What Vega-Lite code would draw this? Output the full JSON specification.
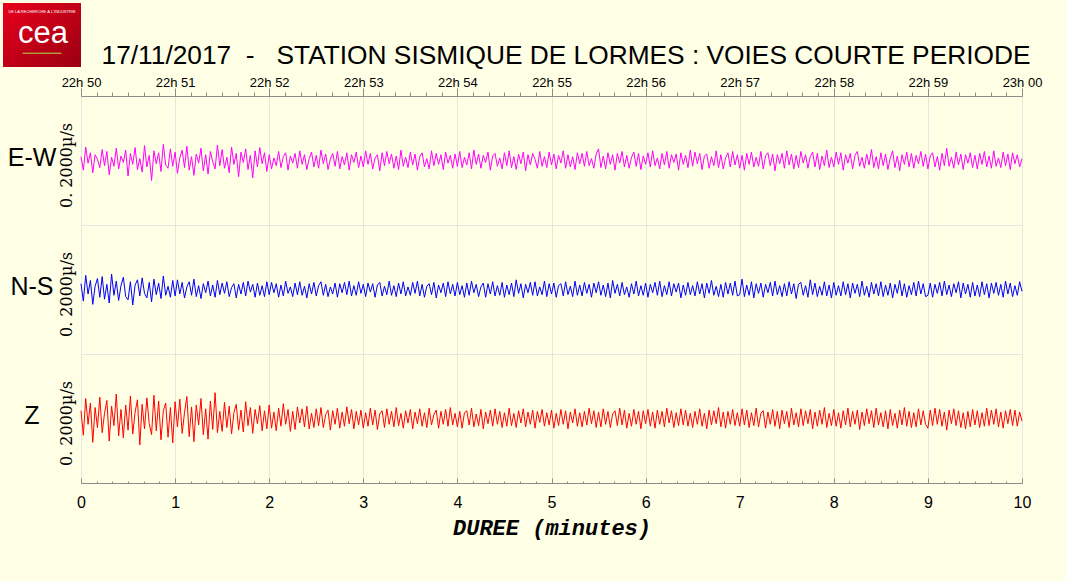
{
"$schema":"https://vega.github.io/schema/vega-lite/v6.json",
"background":"#FFFFE5",
"padding":{"left":3,"top":3,"right":24,"bottom":45},
"config":{"view":{"stroke":null},"font":"Liberation Sans"},
"datasets":{
"ew":[{"t":0,"v":6},{"t":1.5,"v":-15},{"t":3,"v":21},{"t":4.5,"v":-4},{"t":6,"v":12},{"t":7.5,"v":-19},{"t":9,"v":9},{"t":10.5,"v":2},{"t":12,"v":-11},{"t":13.5,"v":17},{"t":15,"v":-8},{"t":16.5,"v":14},{"t":18,"v":-22},{"t":19.5,"v":5},{"t":21,"v":-9},{"t":22.5,"v":19},{"t":24,"v":-13},{"t":25.5,"v":7},{"t":27,"v":-3},{"t":28.5,"v":16},
{"t":30,"v":-24},{"t":31.5,"v":11},{"t":33,"v":-6},{"t":34.5,"v":20},{"t":36,"v":-14},{"t":37.5,"v":3},{"t":39,"v":-18},{"t":40.5,"v":23},{"t":42,"v":-10},{"t":43.5,"v":8},{"t":45,"v":-31},{"t":46.5,"v":15},{"t":48,"v":-5},{"t":49.5,"v":12},{"t":51,"v":-17},{"t":52.5,"v":25},{"t":54,"v":-7},{"t":55.5,"v":-12},{"t":57,"v":18},{"t":58.5,"v":-9},
{"t":60,"v":13},{"t":61.5,"v":-20},{"t":63,"v":4},{"t":64.5,"v":16},{"t":66,"v":-11},{"t":67.5,"v":22},{"t":69,"v":-15},{"t":70.5,"v":6},{"t":72,"v":-23},{"t":73.5,"v":10},{"t":75,"v":-4},{"t":76.5,"v":19},{"t":78,"v":-16},{"t":79.5,"v":9},{"t":81,"v":-21},{"t":82.5,"v":14},{"t":84,"v":-2},{"t":85.5,"v":-13},{"t":87,"v":24},{"t":88.5,"v":-8},
{"t":90,"v":17},{"t":91.5,"v":-12},{"t":93,"v":5},{"t":94.5,"v":-19},{"t":96,"v":21},{"t":97.5,"v":-6},{"t":99,"v":11},{"t":100.5,"v":-25},{"t":102,"v":13},{"t":103.5,"v":-3},{"t":105,"v":18},{"t":106.5,"v":-14},{"t":108,"v":8},{"t":109.5,"v":-27},{"t":111,"v":15},{"t":112.5,"v":-10},{"t":114,"v":20},{"t":115.5,"v":-5},{"t":117,"v":12},{"t":118.5,"v":-17},
{"t":120,"v":9},{"t":121.5,"v":-13},{"t":123,"v":4},{"t":124.5,"v":-8},{"t":126,"v":14},{"t":127.5,"v":-11},{"t":129,"v":6},{"t":130.5,"v":12},{"t":132,"v":-15},{"t":133.5,"v":7},{"t":135,"v":-4},{"t":136.5,"v":11},{"t":138,"v":-12},{"t":139.5,"v":15},{"t":141,"v":-6},{"t":142.5,"v":9},{"t":144,"v":-14},{"t":145.5,"v":3},{"t":147,"v":13},{"t":148.5,"v":-10},
{"t":150,"v":8},{"t":151.5,"v":-12},{"t":153,"v":16},{"t":154.5,"v":-5},{"t":156,"v":10},{"t":157.5,"v":-14},{"t":159,"v":2},{"t":160.5,"v":11},{"t":162,"v":-9},{"t":163.5,"v":14},{"t":165,"v":-13},{"t":166.5,"v":6},{"t":168,"v":-7},{"t":169.5,"v":12},{"t":171,"v":-15},{"t":172.5,"v":9},{"t":174,"v":-3},{"t":175.5,"v":13},{"t":177,"v":-11},{"t":178.5,"v":7},
{"t":180,"v":-10},{"t":181.5,"v":15},{"t":183,"v":-6},{"t":184.5,"v":11},{"t":186,"v":-13},{"t":187.5,"v":4},{"t":189,"v":9},{"t":190.5,"v":-16},{"t":192,"v":12},{"t":193.5,"v":-8},{"t":195,"v":14},{"t":196.5,"v":-5},{"t":198,"v":10},{"t":199.5,"v":-12},{"t":201,"v":7},{"t":202.5,"v":-14},{"t":204,"v":16},{"t":205.5,"v":-9},{"t":207,"v":5},{"t":208.5,"v":-11},
{"t":210,"v":13},{"t":211.5,"v":-7},{"t":213,"v":10},{"t":214.5,"v":-15},{"t":216,"v":6},{"t":217.5,"v":12},{"t":219,"v":-10},{"t":220.5,"v":3},{"t":222,"v":-13},{"t":223.5,"v":15},{"t":225,"v":-8},{"t":226.5,"v":11},{"t":228,"v":-6},{"t":229.5,"v":9},{"t":231,"v":-14},{"t":232.5,"v":13},{"t":234,"v":-4},{"t":235.5,"v":8},{"t":237,"v":-12},{"t":238.5,"v":10},
{"t":240,"v":-9},{"t":241.5,"v":14},{"t":243,"v":-11},{"t":244.5,"v":5},{"t":246,"v":-7},{"t":247.5,"v":12},{"t":249,"v":-13},{"t":250.5,"v":16},{"t":252,"v":-6},{"t":253.5,"v":10},{"t":255,"v":-12},{"t":256.5,"v":8},{"t":258,"v":-3},{"t":259.5,"v":13},{"t":261,"v":-15},{"t":262.5,"v":7},{"t":264,"v":11},{"t":265.5,"v":-9},{"t":267,"v":4},{"t":268.5,"v":-13},
{"t":270,"v":12},{"t":271.5,"v":-8},{"t":273,"v":15},{"t":274.5,"v":-11},{"t":276,"v":6},{"t":277.5,"v":-14},{"t":279,"v":10},{"t":280.5,"v":-5},{"t":282,"v":13},{"t":283.5,"v":-16},{"t":285,"v":9},{"t":286.5,"v":-7},{"t":288,"v":11},{"t":289.5,"v":2},{"t":291,"v":-12},{"t":292.5,"v":14},{"t":294,"v":-9},{"t":295.5,"v":6},{"t":297,"v":-11},{"t":298.5,"v":13},
{"t":300,"v":-7},{"t":301.5,"v":10},{"t":303,"v":-13},{"t":304.5,"v":8},{"t":306,"v":-4},{"t":307.5,"v":15},{"t":309,"v":-12},{"t":310.5,"v":9},{"t":312,"v":-10},{"t":313.5,"v":6},{"t":315,"v":-14},{"t":316.5,"v":12},{"t":318,"v":-5},{"t":319.5,"v":11},{"t":321,"v":-9},{"t":322.5,"v":14},{"t":324,"v":-8},{"t":325.5,"v":3},{"t":327,"v":-12},{"t":328.5,"v":10},
{"t":330,"v":18},{"t":331.5,"v":-11},{"t":333,"v":7},{"t":334.5,"v":-13},{"t":336,"v":12},{"t":337.5,"v":-6},{"t":339,"v":9},{"t":340.5,"v":-15},{"t":342,"v":11},{"t":343.5,"v":-4},{"t":345,"v":14},{"t":346.5,"v":-10},{"t":348,"v":8},{"t":349.5,"v":-12},{"t":351,"v":5},{"t":352.5,"v":13},{"t":354,"v":-9},{"t":355.5,"v":11},{"t":357,"v":-14},{"t":358.5,"v":7},
{"t":360,"v":-6},{"t":361.5,"v":12},{"t":363,"v":-10},{"t":364.5,"v":15},{"t":366,"v":-8},{"t":367.5,"v":4},{"t":369,"v":-13},{"t":370.5,"v":11},{"t":372,"v":-7},{"t":373.5,"v":14},{"t":375,"v":-12},{"t":376.5,"v":9},{"t":378,"v":-3},{"t":379.5,"v":10},{"t":381,"v":-15},{"t":382.5,"v":12},{"t":384,"v":-6},{"t":385.5,"v":8},{"t":387,"v":-11},{"t":388.5,"v":16},
{"t":390,"v":-9},{"t":391.5,"v":13},{"t":393,"v":-5},{"t":394.5,"v":11},{"t":396,"v":-14},{"t":397.5,"v":7},{"t":399,"v":10},{"t":400.5,"v":-12},{"t":402,"v":6},{"t":403.5,"v":-8},{"t":405,"v":15},{"t":406.5,"v":-11},{"t":408,"v":9},{"t":409.5,"v":-13},{"t":411,"v":4},{"t":412.5,"v":12},{"t":414,"v":-10},{"t":415.5,"v":14},{"t":417,"v":-7},{"t":418.5,"v":9},
{"t":420,"v":-12},{"t":421.5,"v":8},{"t":423,"v":-15},{"t":424.5,"v":11},{"t":426,"v":-6},{"t":427.5,"v":13},{"t":429,"v":-10},{"t":430.5,"v":5},{"t":432,"v":-9},{"t":433.5,"v":14},{"t":435,"v":-13},{"t":436.5,"v":7},{"t":438,"v":12},{"t":439.5,"v":-8},{"t":441,"v":10},{"t":442.5,"v":-16},{"t":444,"v":9},{"t":445.5,"v":-5},{"t":447,"v":11},{"t":448.5,"v":-12},
{"t":450,"v":15},{"t":451.5,"v":-7},{"t":453,"v":10},{"t":454.5,"v":-13},{"t":456,"v":8},{"t":457.5,"v":-11},{"t":459,"v":14},{"t":460.5,"v":-4},{"t":462,"v":9},{"t":463.5,"v":-12},{"t":465,"v":6},{"t":466.5,"v":13},{"t":468,"v":-10},{"t":469.5,"v":11},{"t":471,"v":-14},{"t":472.5,"v":7},{"t":474,"v":-8},{"t":475.5,"v":16},{"t":477,"v":-11},{"t":478.5,"v":5},
{"t":480,"v":-10},{"t":481.5,"v":13},{"t":483,"v":-6},{"t":484.5,"v":12},{"t":486,"v":-15},{"t":487.5,"v":9},{"t":489,"v":-4},{"t":490.5,"v":11},{"t":492,"v":-13},{"t":493.5,"v":8},{"t":495,"v":14},{"t":496.5,"v":-9},{"t":498,"v":5},{"t":499.5,"v":-12},{"t":501,"v":10},{"t":502.5,"v":-7},{"t":504,"v":17},{"t":505.5,"v":-11},{"t":507,"v":6},{"t":508.5,"v":-13},
{"t":510,"v":12},{"t":511.5,"v":-8},{"t":513,"v":10},{"t":514.5,"v":-14},{"t":516,"v":4},{"t":517.5,"v":15},{"t":519,"v":-11},{"t":520.5,"v":7},{"t":522,"v":-16},{"t":523.5,"v":9},{"t":525,"v":-6},{"t":526.5,"v":13},{"t":528,"v":-10},{"t":529.5,"v":11},{"t":531,"v":-12},{"t":532.5,"v":8},{"t":534,"v":-5},{"t":535.5,"v":14},{"t":537,"v":-9},{"t":538.5,"v":10},
{"t":540,"v":-13},{"t":541.5,"v":7},{"t":543,"v":12},{"t":544.5,"v":-10},{"t":546,"v":6},{"t":547.5,"v":-15},{"t":549,"v":11},{"t":550.5,"v":-8},{"t":552,"v":19},{"t":553.5,"v":-9},{"t":555,"v":5},{"t":556.5,"v":-12},{"t":558,"v":13},{"t":559.5,"v":-7},{"t":561,"v":10},{"t":562.5,"v":-14},{"t":564,"v":9},{"t":565.5,"v":-4},{"t":567,"v":12},{"t":568.5,"v":-11},
{"t":570,"v":8},{"t":571.5,"v":-13},{"t":573,"v":11},{"t":574.5,"v":-6},{"t":576,"v":14},{"t":577.5,"v":-10},{"t":579,"v":7},{"t":580.5,"v":-12},{"t":582,"v":15},{"t":583.5,"v":-9},{"t":585,"v":4},{"t":586.5,"v":-11},{"t":588,"v":13},{"t":589.5,"v":-8},{"t":591,"v":10},{"t":592.5,"v":-14},{"t":594,"v":12},{"t":595.5,"v":-5},{"t":597,"v":9},{"t":598.5,"v":-10},
{"t":600,"v":3}],
"ns":[{"t":0,"v":9},{"t":1.5,"v":-18},{"t":3,"v":22},{"t":4.5,"v":-7},{"t":6,"v":14},{"t":7.5,"v":-23},{"t":9,"v":5},{"t":10.5,"v":17},{"t":12,"v":-12},{"t":13.5,"v":20},{"t":15,"v":-15},{"t":16.5,"v":8},{"t":18,"v":-21},{"t":19.5,"v":24},{"t":21,"v":-9},{"t":22.5,"v":13},{"t":24,"v":-17},{"t":25.5,"v":6},{"t":27,"v":19},{"t":28.5,"v":-11},
{"t":30,"v":-16},{"t":31.5,"v":12},{"t":33,"v":-24},{"t":34.5,"v":7},{"t":36,"v":15},{"t":37.5,"v":-10},{"t":39,"v":18},{"t":40.5,"v":-6},{"t":42,"v":-13},{"t":43.5,"v":11},{"t":45,"v":-19},{"t":46.5,"v":16},{"t":48,"v":-8},{"t":49.5,"v":10},{"t":51,"v":-14},{"t":52.5,"v":21},{"t":54,"v":-9},{"t":55.5,"v":5},{"t":57,"v":-12},{"t":58.5,"v":14},
{"t":60,"v":-10},{"t":61.5,"v":15},{"t":63,"v":-7},{"t":64.5,"v":11},{"t":66,"v":-13},{"t":67.5,"v":4},{"t":69,"v":12},{"t":70.5,"v":-9},{"t":72,"v":16},{"t":73.5,"v":-11},{"t":75,"v":6},{"t":76.5,"v":-14},{"t":78,"v":9},{"t":79.5,"v":-5},{"t":81,"v":13},{"t":82.5,"v":-10},{"t":84,"v":7},{"t":85.5,"v":-12},{"t":87,"v":14},{"t":88.5,"v":-8},
{"t":90,"v":10},{"t":91.5,"v":-6},{"t":93,"v":12},{"t":94.5,"v":-11},{"t":96,"v":3},{"t":97.5,"v":9},{"t":99,"v":-13},{"t":100.5,"v":8},{"t":102,"v":-7},{"t":103.5,"v":11},{"t":105,"v":-10},{"t":106.5,"v":13},{"t":108,"v":-4},{"t":109.5,"v":8},{"t":111,"v":-12},{"t":112.5,"v":10},{"t":114,"v":-9},{"t":115.5,"v":6},{"t":117,"v":-11},{"t":118.5,"v":12},
{"t":120,"v":-8},{"t":121.5,"v":11},{"t":123,"v":-5},{"t":124.5,"v":9},{"t":126,"v":-12},{"t":127.5,"v":7},{"t":129,"v":-10},{"t":130.5,"v":13},{"t":132,"v":-6},{"t":133.5,"v":4},{"t":135,"v":-11},{"t":136.5,"v":10},{"t":138,"v":-8},{"t":139.5,"v":12},{"t":141,"v":-9},{"t":142.5,"v":5},{"t":144,"v":-13},{"t":145.5,"v":9},{"t":147,"v":-7},{"t":148.5,"v":11},
{"t":150,"v":-10},{"t":151.5,"v":6},{"t":153,"v":12},{"t":154.5,"v":-9},{"t":156,"v":8},{"t":157.5,"v":-11},{"t":159,"v":4},{"t":160.5,"v":-7},{"t":162,"v":10},{"t":163.5,"v":-12},{"t":165,"v":9},{"t":166.5,"v":-5},{"t":168,"v":11},{"t":169.5,"v":-8},{"t":171,"v":13},{"t":172.5,"v":-10},{"t":174,"v":6},{"t":175.5,"v":-9},{"t":177,"v":12},{"t":178.5,"v":-6},
{"t":180,"v":8},{"t":181.5,"v":-11},{"t":183,"v":10},{"t":184.5,"v":-4},{"t":186,"v":9},{"t":187.5,"v":-12},{"t":189,"v":7},{"t":190.5,"v":11},{"t":192,"v":-10},{"t":193.5,"v":5},{"t":195,"v":-8},{"t":196.5,"v":13},{"t":198,"v":-9},{"t":199.5,"v":6},{"t":201,"v":-11},{"t":202.5,"v":10},{"t":204,"v":-7},{"t":205.5,"v":12},{"t":207,"v":-10},{"t":208.5,"v":4},
{"t":210,"v":-9},{"t":211.5,"v":11},{"t":213,"v":-6},{"t":214.5,"v":13},{"t":216,"v":-10},{"t":217.5,"v":8},{"t":219,"v":-12},{"t":220.5,"v":5},{"t":222,"v":9},{"t":223.5,"v":-8},{"t":225,"v":11},{"t":226.5,"v":-13},{"t":228,"v":7},{"t":229.5,"v":-5},{"t":231,"v":10},{"t":232.5,"v":-11},{"t":234,"v":12},{"t":235.5,"v":-7},{"t":237,"v":8},{"t":238.5,"v":-10},
{"t":240,"v":11},{"t":241.5,"v":-8},{"t":243,"v":6},{"t":244.5,"v":-12},{"t":246,"v":10},{"t":247.5,"v":-9},{"t":249,"v":13},{"t":250.5,"v":-5},{"t":252,"v":8},{"t":253.5,"v":-11},{"t":255,"v":4},{"t":256.5,"v":10},{"t":258,"v":-12},{"t":259.5,"v":9},{"t":261,"v":-7},{"t":262.5,"v":12},{"t":264,"v":-10},{"t":265.5,"v":6},{"t":267,"v":-9},{"t":268.5,"v":11},
{"t":270,"v":-12},{"t":271.5,"v":7},{"t":273,"v":-8},{"t":274.5,"v":10},{"t":276,"v":-11},{"t":277.5,"v":15},{"t":279,"v":-6},{"t":280.5,"v":9},{"t":282,"v":-13},{"t":283.5,"v":8},{"t":285,"v":-5},{"t":286.5,"v":11},{"t":288,"v":-9},{"t":289.5,"v":12},{"t":291,"v":-10},{"t":292.5,"v":4},{"t":294,"v":-8},{"t":295.5,"v":13},{"t":297,"v":-11},{"t":298.5,"v":9},
{"t":300,"v":-7},{"t":301.5,"v":10},{"t":303,"v":-12},{"t":304.5,"v":6},{"t":306,"v":9},{"t":307.5,"v":-10},{"t":309,"v":12},{"t":310.5,"v":-8},{"t":312,"v":5},{"t":313.5,"v":-11},{"t":315,"v":13},{"t":316.5,"v":-9},{"t":318,"v":7},{"t":319.5,"v":-10},{"t":321,"v":11},{"t":322.5,"v":-6},{"t":324,"v":8},{"t":325.5,"v":-12},{"t":327,"v":10},{"t":328.5,"v":-5},
{"t":330,"v":12},{"t":331.5,"v":-9},{"t":333,"v":7},{"t":334.5,"v":-11},{"t":336,"v":10},{"t":337.5,"v":-13},{"t":339,"v":14},{"t":340.5,"v":-6},{"t":342,"v":8},{"t":343.5,"v":-10},{"t":345,"v":11},{"t":346.5,"v":-8},{"t":348,"v":4},{"t":349.5,"v":-12},{"t":351,"v":9},{"t":352.5,"v":-7},{"t":354,"v":13},{"t":355.5,"v":-10},{"t":357,"v":6},{"t":358.5,"v":-9},
{"t":360,"v":10},{"t":361.5,"v":-12},{"t":363,"v":8},{"t":364.5,"v":-5},{"t":366,"v":11},{"t":367.5,"v":-9},{"t":369,"v":13},{"t":370.5,"v":-11},{"t":372,"v":6},{"t":373.5,"v":-8},{"t":375,"v":12},{"t":376.5,"v":-10},{"t":378,"v":9},{"t":379.5,"v":-4},{"t":381,"v":10},{"t":382.5,"v":-13},{"t":384,"v":7},{"t":385.5,"v":-9},{"t":387,"v":11},{"t":388.5,"v":-8},
{"t":390,"v":6},{"t":391.5,"v":-10},{"t":393,"v":12},{"t":394.5,"v":-7},{"t":396,"v":9},{"t":397.5,"v":-13},{"t":399,"v":10},{"t":400.5,"v":-6},{"t":402,"v":14},{"t":403.5,"v":-9},{"t":405,"v":5},{"t":406.5,"v":-11},{"t":408,"v":8},{"t":409.5,"v":-12},{"t":411,"v":11},{"t":412.5,"v":-7},{"t":414,"v":10},{"t":415.5,"v":-9},{"t":417,"v":13},{"t":418.5,"v":-10},
{"t":420,"v":-8},{"t":421.5,"v":16},{"t":423,"v":-11},{"t":424.5,"v":7},{"t":426,"v":-9},{"t":427.5,"v":12},{"t":429,"v":-13},{"t":430.5,"v":9},{"t":432,"v":-6},{"t":433.5,"v":10},{"t":435,"v":-12},{"t":436.5,"v":8},{"t":438,"v":-5},{"t":439.5,"v":11},{"t":441,"v":-10},{"t":442.5,"v":13},{"t":444,"v":-8},{"t":445.5,"v":6},{"t":447,"v":-11},{"t":448.5,"v":9},
{"t":450,"v":-10},{"t":451.5,"v":12},{"t":453,"v":-7},{"t":454.5,"v":9},{"t":456,"v":-14},{"t":457.5,"v":8},{"t":459,"v":11},{"t":460.5,"v":-9},{"t":462,"v":6},{"t":463.5,"v":-12},{"t":465,"v":15},{"t":466.5,"v":-8},{"t":468,"v":10},{"t":469.5,"v":-11},{"t":471,"v":5},{"t":472.5,"v":-9},{"t":474,"v":12},{"t":475.5,"v":-10},{"t":477,"v":7},{"t":478.5,"v":-13},
{"t":480,"v":11},{"t":481.5,"v":-9},{"t":483,"v":6},{"t":484.5,"v":-10},{"t":486,"v":12},{"t":487.5,"v":-8},{"t":489,"v":9},{"t":490.5,"v":-13},{"t":492,"v":10},{"t":493.5,"v":-6},{"t":495,"v":8},{"t":496.5,"v":-11},{"t":498,"v":13},{"t":499.5,"v":-9},{"t":501,"v":5},{"t":502.5,"v":-12},{"t":504,"v":11},{"t":505.5,"v":-7},{"t":507,"v":9},{"t":508.5,"v":-10},
{"t":510,"v":12},{"t":511.5,"v":-11},{"t":513,"v":7},{"t":514.5,"v":-9},{"t":516,"v":10},{"t":517.5,"v":-13},{"t":519,"v":8},{"t":520.5,"v":-6},{"t":522,"v":14},{"t":523.5,"v":-10},{"t":525,"v":9},{"t":526.5,"v":-12},{"t":528,"v":6},{"t":529.5,"v":-8},{"t":531,"v":11},{"t":532.5,"v":-10},{"t":534,"v":13},{"t":535.5,"v":-7},{"t":537,"v":9},{"t":538.5,"v":-11},
{"t":540,"v":-9},{"t":541.5,"v":10},{"t":543,"v":-12},{"t":544.5,"v":8},{"t":546,"v":-6},{"t":547.5,"v":11},{"t":549,"v":-10},{"t":550.5,"v":13},{"t":552,"v":-8},{"t":553.5,"v":7},{"t":555,"v":-11},{"t":556.5,"v":9},{"t":558,"v":-5},{"t":559.5,"v":12},{"t":561,"v":-13},{"t":562.5,"v":10},{"t":564,"v":-7},{"t":565.5,"v":8},{"t":567,"v":-12},{"t":568.5,"v":11},
{"t":570,"v":-10},{"t":571.5,"v":7},{"t":573,"v":-11},{"t":574.5,"v":12},{"t":576,"v":-8},{"t":577.5,"v":9},{"t":579,"v":-13},{"t":580.5,"v":10},{"t":582,"v":-6},{"t":583.5,"v":11},{"t":585,"v":-9},{"t":586.5,"v":8},{"t":588,"v":-12},{"t":589.5,"v":13},{"t":591,"v":-7},{"t":592.5,"v":10},{"t":594,"v":-11},{"t":595.5,"v":6},{"t":597,"v":-9},{"t":598.5,"v":12},
{"t":600,"v":-3}],
"z":[{"t":0,"v":12},{"t":1.5,"v":-26},{"t":3,"v":31},{"t":4.5,"v":-9},{"t":6,"v":24},{"t":7.5,"v":-37},{"t":9,"v":17},{"t":10.5,"v":-14},{"t":12,"v":33},{"t":13.5,"v":-22},{"t":15,"v":8},{"t":16.5,"v":28},{"t":18,"v":-35},{"t":19.5,"v":19},{"t":21,"v":-11},{"t":22.5,"v":38},{"t":24,"v":-27},{"t":25.5,"v":14},{"t":27,"v":-30},{"t":28.5,"v":21},
{"t":30,"v":-18},{"t":31.5,"v":35},{"t":33,"v":-24},{"t":34.5,"v":10},{"t":36,"v":29},{"t":37.5,"v":-41},{"t":39,"v":22},{"t":40.5,"v":-16},{"t":42,"v":32},{"t":43.5,"v":-8},{"t":45,"v":-25},{"t":46.5,"v":36},{"t":48,"v":-19},{"t":49.5,"v":27},{"t":51,"v":-33},{"t":52.5,"v":12},{"t":54,"v":24},{"t":55.5,"v":-29},{"t":57,"v":17},{"t":58.5,"v":-38},
{"t":60,"v":26},{"t":61.5,"v":-13},{"t":63,"v":30},{"t":64.5,"v":-23},{"t":66,"v":9},{"t":67.5,"v":34},{"t":69,"v":-28},{"t":70.5,"v":18},{"t":72,"v":-36},{"t":73.5,"v":21},{"t":75,"v":-10},{"t":76.5,"v":31},{"t":78,"v":-25},{"t":79.5,"v":15},{"t":81,"v":-32},{"t":82.5,"v":27},{"t":84,"v":-17},{"t":85.5,"v":40},{"t":87,"v":-22},{"t":88.5,"v":11},
{"t":90,"v":-20},{"t":91.5,"v":25},{"t":93,"v":-14},{"t":94.5,"v":19},{"t":96,"v":-24},{"t":97.5,"v":9},{"t":99,"v":22},{"t":100.5,"v":-18},{"t":102,"v":13},{"t":103.5,"v":-21},{"t":105,"v":26},{"t":106.5,"v":-11},{"t":108,"v":17},{"t":109.5,"v":-23},{"t":111,"v":14},{"t":112.5,"v":-8},{"t":114,"v":20},{"t":115.5,"v":-19},{"t":117,"v":12},{"t":118.5,"v":-16},
{"t":120,"v":21},{"t":121.5,"v":-15},{"t":123,"v":10},{"t":124.5,"v":-19},{"t":126,"v":16},{"t":127.5,"v":-12},{"t":129,"v":23},{"t":130.5,"v":-9},{"t":132,"v":14},{"t":133.5,"v":-20},{"t":135,"v":11},{"t":136.5,"v":-17},{"t":138,"v":18},{"t":139.5,"v":-7},{"t":141,"v":15},{"t":142.5,"v":-13},{"t":144,"v":19},{"t":145.5,"v":-16},{"t":147,"v":8},{"t":148.5,"v":-14},
{"t":150,"v":15},{"t":151.5,"v":-11},{"t":153,"v":17},{"t":154.5,"v":-14},{"t":156,"v":6},{"t":157.5,"v":13},{"t":159,"v":-18},{"t":160.5,"v":12},{"t":162,"v":-9},{"t":163.5,"v":16},{"t":165,"v":-15},{"t":166.5,"v":10},{"t":168,"v":-12},{"t":169.5,"v":18},{"t":171,"v":-8},{"t":172.5,"v":14},{"t":174,"v":-16},{"t":175.5,"v":11},{"t":177,"v":-10},{"t":178.5,"v":13},
{"t":180,"v":-15},{"t":181.5,"v":9},{"t":183,"v":-12},{"t":184.5,"v":16},{"t":186,"v":-10},{"t":187.5,"v":13},{"t":189,"v":-17},{"t":190.5,"v":7},{"t":192,"v":12},{"t":193.5,"v":-14},{"t":195,"v":15},{"t":196.5,"v":-9},{"t":198,"v":11},{"t":199.5,"v":-13},{"t":201,"v":17},{"t":202.5,"v":-11},{"t":204,"v":8},{"t":205.5,"v":-15},{"t":207,"v":12},{"t":208.5,"v":-7},
{"t":210,"v":14},{"t":211.5,"v":-16},{"t":213,"v":10},{"t":214.5,"v":-8},{"t":216,"v":15},{"t":217.5,"v":-12},{"t":219,"v":9},{"t":220.5,"v":-14},{"t":222,"v":16},{"t":223.5,"v":-10},{"t":225,"v":6},{"t":226.5,"v":13},{"t":228,"v":-15},{"t":229.5,"v":11},{"t":231,"v":-9},{"t":232.5,"v":14},{"t":234,"v":-12},{"t":235.5,"v":17},{"t":237,"v":-10},{"t":238.5,"v":8},
{"t":240,"v":-13},{"t":241.5,"v":11},{"t":243,"v":-15},{"t":244.5,"v":9},{"t":246,"v":12},{"t":247.5,"v":-10},{"t":249,"v":16},{"t":250.5,"v":-13},{"t":252,"v":7},{"t":253.5,"v":-11},{"t":255,"v":14},{"t":256.5,"v":-16},{"t":258,"v":10},{"t":259.5,"v":-8},{"t":261,"v":13},{"t":262.5,"v":-12},{"t":264,"v":15},{"t":265.5,"v":-9},{"t":267,"v":11},{"t":268.5,"v":-14},
{"t":270,"v":9},{"t":271.5,"v":-12},{"t":273,"v":16},{"t":274.5,"v":-11},{"t":276,"v":8},{"t":277.5,"v":-14},{"t":279,"v":12},{"t":280.5,"v":-7},{"t":282,"v":15},{"t":283.5,"v":-13},{"t":285,"v":10},{"t":286.5,"v":-9},{"t":288,"v":13},{"t":289.5,"v":-15},{"t":291,"v":11},{"t":292.5,"v":-6},{"t":294,"v":14},{"t":295.5,"v":-12},{"t":297,"v":9},{"t":298.5,"v":-10},
{"t":300,"v":13},{"t":301.5,"v":-15},{"t":303,"v":8},{"t":304.5,"v":-11},{"t":306,"v":14},{"t":307.5,"v":-9},{"t":309,"v":12},{"t":310.5,"v":-16},{"t":312,"v":10},{"t":313.5,"v":-7},{"t":315,"v":15},{"t":316.5,"v":-12},{"t":318,"v":9},{"t":319.5,"v":-13},{"t":321,"v":11},{"t":322.5,"v":-10},{"t":324,"v":16},{"t":325.5,"v":-8},{"t":327,"v":12},{"t":328.5,"v":-14},
{"t":330,"v":10},{"t":331.5,"v":-13},{"t":333,"v":15},{"t":334.5,"v":-9},{"t":336,"v":11},{"t":337.5,"v":-14},{"t":339,"v":7},{"t":340.5,"v":12},{"t":342,"v":-11},{"t":343.5,"v":16},{"t":345,"v":-10},{"t":346.5,"v":13},{"t":348,"v":-15},{"t":349.5,"v":8},{"t":351,"v":-12},{"t":352.5,"v":14},{"t":354,"v":-9},{"t":355.5,"v":11},{"t":357,"v":-16},{"t":358.5,"v":12},
{"t":360,"v":-8},{"t":361.5,"v":14},{"t":363,"v":-12},{"t":364.5,"v":10},{"t":366,"v":-15},{"t":367.5,"v":13},{"t":369,"v":-9},{"t":370.5,"v":11},{"t":372,"v":-13},{"t":373.5,"v":16},{"t":375,"v":-7},{"t":376.5,"v":12},{"t":378,"v":-14},{"t":379.5,"v":9},{"t":381,"v":-11},{"t":382.5,"v":15},{"t":384,"v":-10},{"t":385.5,"v":13},{"t":387,"v":-12},{"t":388.5,"v":8},
{"t":390,"v":-14},{"t":391.5,"v":11},{"t":393,"v":-9},{"t":394.5,"v":15},{"t":396,"v":-12},{"t":397.5,"v":8},{"t":399,"v":-16},{"t":400.5,"v":13},{"t":402,"v":-10},{"t":403.5,"v":12},{"t":405,"v":-8},{"t":406.5,"v":17},{"t":408,"v":-13},{"t":409.5,"v":10},{"t":411,"v":-15},{"t":412.5,"v":11},{"t":414,"v":-9},{"t":415.5,"v":14},{"t":417,"v":-11},{"t":418.5,"v":9},
{"t":420,"v":-12},{"t":421.5,"v":15},{"t":423,"v":-10},{"t":424.5,"v":13},{"t":426,"v":-14},{"t":427.5,"v":9},{"t":429,"v":-11},{"t":430.5,"v":16},{"t":432,"v":-13},{"t":433.5,"v":8},{"t":435,"v":12},{"t":436.5,"v":-15},{"t":438,"v":10},{"t":439.5,"v":-9},{"t":441,"v":14},{"t":442.5,"v":-12},{"t":444,"v":11},{"t":445.5,"v":-16},{"t":447,"v":13},{"t":448.5,"v":-8},
{"t":450,"v":11},{"t":451.5,"v":-14},{"t":453,"v":16},{"t":454.5,"v":-10},{"t":456,"v":9},{"t":457.5,"v":-13},{"t":459,"v":15},{"t":460.5,"v":-11},{"t":462,"v":12},{"t":463.5,"v":-8},{"t":465,"v":14},{"t":466.5,"v":-16},{"t":468,"v":10},{"t":469.5,"v":-12},{"t":471,"v":13},{"t":472.5,"v":-9},{"t":474,"v":17},{"t":475.5,"v":-14},{"t":477,"v":8},{"t":478.5,"v":-11},
{"t":480,"v":14},{"t":481.5,"v":-12},{"t":483,"v":9},{"t":484.5,"v":-15},{"t":486,"v":12},{"t":487.5,"v":-10},{"t":489,"v":16},{"t":490.5,"v":-13},{"t":492,"v":11},{"t":493.5,"v":-9},{"t":495,"v":13},{"t":496.5,"v":-17},{"t":498,"v":10},{"t":499.5,"v":-11},{"t":501,"v":15},{"t":502.5,"v":-8},{"t":504,"v":12},{"t":505.5,"v":-14},{"t":507,"v":16},{"t":508.5,"v":-10},
{"t":510,"v":9},{"t":511.5,"v":-13},{"t":513,"v":12},{"t":514.5,"v":-16},{"t":516,"v":14},{"t":517.5,"v":-11},{"t":519,"v":8},{"t":520.5,"v":-15},{"t":522,"v":13},{"t":523.5,"v":-10},{"t":525,"v":17},{"t":526.5,"v":-12},{"t":528,"v":11},{"t":529.5,"v":-14},{"t":531,"v":9},{"t":532.5,"v":-13},{"t":534,"v":15},{"t":535.5,"v":-10},{"t":537,"v":12},{"t":538.5,"v":-9},
{"t":540,"v":-15},{"t":541.5,"v":13},{"t":543,"v":-11},{"t":544.5,"v":16},{"t":546,"v":-9},{"t":547.5,"v":14},{"t":549,"v":-12},{"t":550.5,"v":10},{"t":552,"v":-18},{"t":553.5,"v":13},{"t":555,"v":-8},{"t":556.5,"v":15},{"t":558,"v":-11},{"t":559.5,"v":12},{"t":561,"v":-14},{"t":562.5,"v":9},{"t":564,"v":-16},{"t":565.5,"v":11},{"t":567,"v":-13},{"t":568.5,"v":14},
{"t":570,"v":-10},{"t":571.5,"v":12},{"t":573,"v":-14},{"t":574.5,"v":9},{"t":576,"v":-12},{"t":577.5,"v":16},{"t":579,"v":-11},{"t":580.5,"v":13},{"t":582,"v":-9},{"t":583.5,"v":15},{"t":585,"v":-13},{"t":586.5,"v":10},{"t":588,"v":-15},{"t":589.5,"v":12},{"t":591,"v":-8},{"t":592.5,"v":14},{"t":594,"v":-11},{"t":595.5,"v":13},{"t":597,"v":-12},{"t":598.5,"v":10},
{"t":600,"v":-4}]
},
"concat":[
 {"width":78,"height":64,"view":{"stroke":null},
  "data":{"values":[{"logo":"cea","tag":"DE LA RECHERCHE À L'INDUSTRIE","bar":"━━━━━━━━"}]},
  "layer":[
   {"mark":{"type":"rect","fill":{"gradient":"linear","x1":0,"y1":0,"x2":1,"y2":1,"stops":[{"offset":0,"color":"#E8001C"},{"offset":1,"color":"#9A0012"}]}},"encoding":{}},
   {"mark":{"type":"text","color":"white","font":"Liberation Sans","fontSize":31,"baseline":"alphabetic","dy":8,"dx":1},"encoding":{"text":{"field":"logo"}}},
   {"mark":{"type":"text","color":"white","font":"Liberation Sans","fontSize":4,"dy":-23},"encoding":{"text":{"field":"tag"}}},
   {"mark":{"type":"text","color":"#B0A23A","font":"DejaVu Sans","fontSize":8,"dy":19},"encoding":{"text":{"field":"bar"}}}
  ]},
 {"width":941,"height":93,"view":{"stroke":null},
  "data":{"values":[{"label":"17/11/2017\u00a0\u00a0-\u00a0\u00a0\u00a0STATION SISMIQUE DE LORMES : VOIES COURTE PERIODE"}]},
  "mark":{"type":"text","font":"Liberation Sans","fontSize":26.3,"color":"#000","baseline":"alphabetic","dx":14.5,"dy":14.5},
  "encoding":{"text":{"field":"label"}}},
 {"width":78,"height":129,"view":{"stroke":null},
  "data":{"values":[{"ch":"E-W","sc":"0. 2000µ/s"}]},
  "layer":[
   {"mark":{"type":"text","font":"Liberation Sans","fontSize":25,"color":"#000","baseline":"middle","dx":-10,"dy":-3},"encoding":{"text":{"field":"ch"}}},
   {"mark":{"type":"text","font":"DejaVu Serif","fontSize":16,"color":"#000","angle":270,"baseline":"bottom","align":"center","dx":-5,"dy":33},"encoding":{"text":{"field":"sc"}}}
  ]},
 {"width":941,"height":129,"data":{"name":"ew"},
  "mark":{"type":"line","color":"#FF00FF","strokeWidth":1},
  "encoding":{
   "x":{"field":"t","type":"quantitative","scale":{"domain":[0,600],"nice":false},
    "axis":{"orient":"top","title":null,"values":[0,10,20,30,40,50,60,70,80,90,100,110,120,130,140,150,160,170,180,190,200,210,220,230,240,250,260,270,280,290,300,310,320,330,340,350,360,370,380,390,400,410,420,430,440,450,460,470,480,490,500,510,520,530,540,550,560,570,580,590,600],
     "labelExpr":"datum.value % 60 === 0 ? (datum.value < 600 ? '22h ' + (50 + datum.value/60) : '23h 00') : ''",
     "labelFont":"Liberation Sans","labelFontSize":13,"labelColor":"#000","labelPadding":-1,"labelFlush":false,"labelOverlap":false,
     "tickColor":"#8c8c8c","domainColor":"#8c8c8c",
     "tickSize":{"condition":{"test":"datum.value % 60 === 0","value":8},"value":4},
     "gridColor":"#e6e6e0","gridOpacity":{"condition":{"test":"datum.value % 60 === 0","value":1},"value":0}}},
   "y":{"field":"v","type":"quantitative","scale":{"domain":[-100,100]},
    "axis":{"values":[-100,100],"labels":false,"ticks":false,"domain":false,"grid":true,"gridColor":"#e6e6e0","title":null}}}},
 {"width":78,"height":129,"view":{"stroke":null},
  "data":{"values":[{"ch":"N-S","sc":"0. 2000µ/s"}]},
  "layer":[
   {"mark":{"type":"text","font":"Liberation Sans","fontSize":25,"color":"#000","baseline":"middle","dx":-10,"dy":-3},"encoding":{"text":{"field":"ch"}}},
   {"mark":{"type":"text","font":"DejaVu Serif","fontSize":16,"color":"#000","angle":270,"baseline":"bottom","align":"center","dx":-5,"dy":33},"encoding":{"text":{"field":"sc"}}}
  ]},
 {"width":941,"height":129,"data":{"name":"ns"},
  "mark":{"type":"line","color":"#0000FF","strokeWidth":1},
  "encoding":{
   "x":{"field":"t","type":"quantitative","scale":{"domain":[0,600],"nice":false},
    "axis":{"title":null,"values":[0,60,120,180,240,300,360,420,480,540,600],"labels":false,"ticks":false,"domain":false,"gridColor":"#e6e6e0"}},
   "y":{"field":"v","type":"quantitative","scale":{"domain":[-100,100]},
    "axis":{"values":[-100,100],"labels":false,"ticks":false,"domain":false,"grid":true,"gridColor":"#e6e6e0","title":null}}}},
 {"width":78,"height":129,"view":{"stroke":null},
  "data":{"values":[{"ch":"Z","sc":"0. 2000µ/s"}]},
  "layer":[
   {"mark":{"type":"text","font":"Liberation Sans","fontSize":25,"color":"#000","baseline":"middle","dx":-10,"dy":-3},"encoding":{"text":{"field":"ch"}}},
   {"mark":{"type":"text","font":"DejaVu Serif","fontSize":16,"color":"#000","angle":270,"baseline":"bottom","align":"center","dx":-5,"dy":33},"encoding":{"text":{"field":"sc"}}}
  ]},
 {"width":941,"height":129,"data":{"name":"z"},
  "mark":{"type":"line","color":"#FF0000","strokeWidth":1},
  "encoding":{
   "x":{"field":"t","type":"quantitative","scale":{"domain":[0,600],"nice":false},
    "axis":{"orient":"bottom","title":"DUREE (minutes)","values":[0,10,20,30,40,50,60,70,80,90,100,110,120,130,140,150,160,170,180,190,200,210,220,230,240,250,260,270,280,290,300,310,320,330,340,350,360,370,380,390,400,410,420,430,440,450,460,470,480,490,500,510,520,530,540,550,560,570,580,590,600],
     "labelExpr":"datum.value % 60 === 0 ? '' + (datum.value/60) : ''",
     "labelFont":"Liberation Sans","labelFontSize":16,"labelColor":"#000","labelPadding":16,"labelFlush":false,"labelOverlap":false,
     "tickColor":"#8c8c8c","domainColor":"#8c8c8c",
     "tickSize":{"condition":{"test":"datum.value % 60 === 0","value":-5},"value":-2},
     "gridColor":"#e6e6e0","gridOpacity":{"condition":{"test":"datum.value % 60 === 0","value":1},"value":0},
     "titleFont":"Liberation Mono","titleFontSize":22,"titleFontWeight":"bold","titleFontStyle":"italic","titleColor":"#000","titlePadding":4}},
   "y":{"field":"v","type":"quantitative","scale":{"domain":[-100,100]},
    "axis":{"values":[-100,100],"labels":false,"ticks":false,"domain":false,"grid":true,"gridColor":"#e6e6e0","title":null}}}}
],
"columns":2,
"bounds":"flush",
"spacing":0
}
